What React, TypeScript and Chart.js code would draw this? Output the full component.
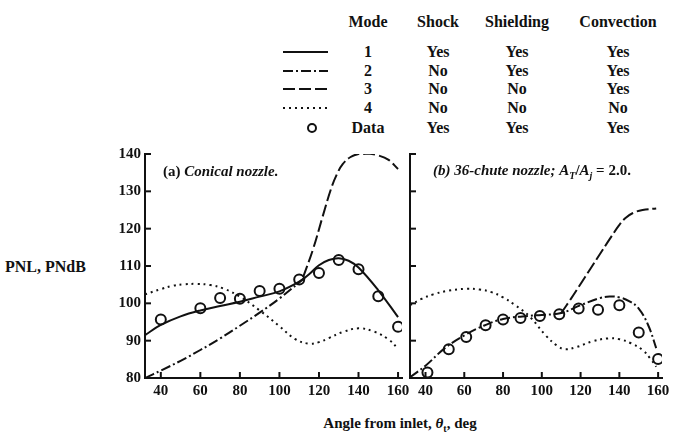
import React, { useEffect, useRef } from "react";
import { Chart, registerables } from "chart.js";

Chart.register(...registerables);

// ---------- Data ----------
const angleTicks = [40, 60, 80, 100, 120, 140, 160];
const dbMin = 80;
const dbMax = 140;
const angleMin = 32;
const angleMax = 162;

// Panel (a) Conical nozzle
const aMode1X = [32, 40, 50, 60, 70, 80, 90, 100, 110, 115, 120, 125, 130, 135, 140, 150, 160];
const aMode1Y = [91.5, 94.2, 96.5, 98.1, 99.3, 100.4, 101.8, 103.2, 105.8, 107.8, 110.2, 111.6, 112.1, 111.4, 109.6, 103.5, 96.3];
const aMode2X = [32, 40, 50, 60, 70, 80, 90, 100, 110, 113];
const aMode2Y = [80, 82.0, 84.6, 87.5, 90.6, 94.0, 97.5, 101.3, 105.6, 107.0];
const aMode3X = [112, 117, 122, 126, 129, 132, 136, 140, 145, 150, 155, 160];
const aMode3Y = [107, 114.5, 123.5, 130.5, 134.5, 137.3, 139.2, 140, 140.1, 139.6, 138.5, 136];
const aMode4X = [32, 40, 46, 52, 58, 65, 72, 80, 90, 100, 108, 115, 120, 125, 132, 140, 148, 155, 160];
const aMode4Y = [102.4, 103.8, 104.7, 105.1, 105.2, 104.9, 103.9, 101.8, 98.1, 93.9, 90.4, 89.2, 89.6, 90.7, 92.3, 93.3, 92.4, 90.4, 87.9];
const aDataX = [40, 60, 70, 80, 90, 100, 110, 120, 130, 140, 150, 160];
const aDataY = [95.7, 98.7, 101.4, 101.2, 103.3, 103.9, 106.4, 108.1, 111.6, 109.1, 101.9, 93.7];

// Panel (b) 36-chute nozzle
const bMode2X = [32, 40, 50, 60, 70, 80, 90, 100, 110, 120, 130, 135, 140, 145, 150, 155, 159];
const bMode2Y = [80.2, 83.3, 88.0, 91.4, 94.0, 95.8, 96.5, 96.9, 97.4, 99.5, 101.4, 101.8, 101.6, 100.6, 98.6, 94, 88];
const bMode3X = [110, 115, 120, 125, 130, 135, 140, 143, 147, 152, 159];
const bMode3Y = [97.4, 101.2, 105.2, 109.2, 113.2, 117.2, 121, 122.8, 124.2, 125, 125.4];
const bMode4X = [32, 38, 44, 52, 61, 68, 74, 80, 86, 94, 102, 108, 112, 118, 126, 134, 140, 146, 152, 156, 159];
const bMode4Y = [99.5, 101.2, 102.4, 103.4, 103.9, 103.7, 103, 101.6, 99.6, 96.3, 91.4, 88.6, 87.7, 88.3, 89.8, 90.6, 90.4, 89.3, 87.5, 85.2, 83];
const bDataX = [41, 52, 61, 71, 80, 89, 99, 109, 119, 129, 140, 150, 160];
const bDataY = [81.5, 87.7, 91, 94.1, 95.7, 96.1, 96.6, 97.1, 98.6, 98.3, 99.5, 92.2, 85.1];

// Legend table
const legendHeaders = ["Mode", "Shock", "Shielding", "Convection"];
const legendModes = ["1", "2", "3", "4", "Data"];
const legendShock = ["Yes", "No", "No", "No", "Yes"];
const legendShielding = ["Yes", "Yes", "No", "No", "Yes"];
const legendConvection = ["Yes", "Yes", "Yes", "No", "Yes"];

// ---------- Styles ----------
const INK = "#111";
const FONT = "'Liberation Serif', 'Times New Roman', serif";
const DASH1: number[] = [];
const DASH2 = [10, 3, 2, 3];
const DASH3 = [12, 4];
const DASH4 = [2, 4];

const pts = (xs: number[], ys: number[]) => xs.map((x, i) => ({ x, y: ys[i] }));

const lineDs = (xs: number[], ys: number[], dash: number[]) => ({
  data: pts(xs, ys),
  borderColor: INK,
  borderWidth: 2,
  borderDash: dash,
  pointRadius: 0,
  tension: 0.4,
  fill: false,
});

const dataDs = (xs: number[], ys: number[]) => ({
  data: pts(xs, ys),
  showLine: false,
  borderColor: INK,
  backgroundColor: "#fff",
  pointRadius: 5,
  pointBorderWidth: 2,
  pointBorderColor: INK,
  pointBackgroundColor: "#fff",
});

const innerTicks = {
  id: "innerTicks",
  afterDraw(chart: any) {
    const { ctx, chartArea, scales } = chart;
    ctx.save();
    ctx.strokeStyle = INK;
    ctx.lineWidth = 2;
    scales.y.ticks.forEach((t: any) => {
      const y = scales.y.getPixelForValue(t.value);
      ctx.beginPath();
      ctx.moveTo(chartArea.left, y);
      ctx.lineTo(chartArea.left + 6, y);
      ctx.stroke();
    });
    scales.x.ticks.forEach((t: any) => {
      const x = scales.x.getPixelForValue(t.value);
      ctx.beginPath();
      ctx.moveTo(x, chartArea.bottom);
      ctx.lineTo(x, chartArea.bottom - 6);
      ctx.stroke();
    });
    ctx.restore();
  },
};

function makeConfig(datasets: any[], yWidth: number, showYLabels: boolean): any {
  return {
    type: "line",
    data: { datasets },
    plugins: [innerTicks],
    options: {
      animation: false,
      responsive: false,
      maintainAspectRatio: false,
      events: [],
      layout: { padding: { top: 14, right: 15, left: 0, bottom: 0 } },
      plugins: { legend: { display: false }, tooltip: { enabled: false } },
      scales: {
        x: {
          type: "linear",
          min: angleMin,
          max: angleMax,
          afterBuildTicks: (s: any) => {
            s.ticks = angleTicks.map((v) => ({ value: v }));
          },
          afterFit: (s: any) => {
            s.height = 24;
          },
          grid: { display: true, drawOnChartArea: false, drawTicks: false },
          border: { display: true, color: INK, width: 2 },
          ticks: { color: INK, font: { family: FONT, size: 15, weight: "bold" }, padding: 4, maxRotation: 0, autoSkip: false },
        },
        y: {
          type: "linear",
          min: dbMin,
          max: dbMax,
          afterFit: (s: any) => {
            s.width = yWidth;
          },
          grid: { display: true, drawOnChartArea: false, drawTicks: false },
          border: { display: true, color: INK, width: 2 },
          ticks: { display: showYLabels, stepSize: 10, color: INK, font: { family: FONT, size: 15, weight: "bold" }, padding: 4 },
        },
      },
    },
  };
}

function Panel(props: { left: number; top: number; width: number; height: number; datasets: any[]; yWidth: number; showY: boolean }) {
  const ref = useRef<HTMLCanvasElement>(null);
  useEffect(() => {
    if (!ref.current) return;
    const chart = new Chart(ref.current, makeConfig(props.datasets, props.yWidth, props.showY));
    return () => chart.destroy();
  }, []);
  return (
    <canvas
      ref={ref}
      width={props.width}
      height={props.height}
      style={{ position: "absolute", left: props.left, top: props.top, width: props.width, height: props.height }}
    />
  );
}

function Txt(props: { x: number; y: number; children: any; size?: number; align?: "center" | "left" | "right"; style?: any }) {
  const tx = props.align === "left" ? "0" : props.align === "right" ? "-100%" : "-50%";
  return (
    <div
      style={{
        position: "absolute",
        left: props.x,
        top: props.y,
        transform: `translate(${tx}, -50%)`,
        whiteSpace: "nowrap",
        fontFamily: FONT,
        fontSize: props.size || 16,
        color: INK,
        lineHeight: 1,
        ...(props.style || {}),
      }}
    >
      {props.children}
    </div>
  );
}

function LineSample(props: { x: number; y: number; dash: number[] | null }) {
  return (
    <svg style={{ position: "absolute", left: props.x, top: props.y - 6 }} width={48} height={12}>
      {props.dash === null ? (
        <circle cx={30} cy={6} r={4} fill="#fff" stroke={INK} strokeWidth={2} />
      ) : (
        <line x1={1} y1={6} x2={46} y2={6} stroke={INK} strokeWidth={2} strokeDasharray={props.dash.length ? props.dash.join(" ") : undefined} />
      )}
    </svg>
  );
}

export default function App() {
  const aSets = [
    lineDs(aMode4X, aMode4Y, DASH4),
    lineDs(aMode2X, aMode2Y, DASH2),
    lineDs(aMode3X, aMode3Y, DASH3),
    lineDs(aMode1X, aMode1Y, DASH1),
    dataDs(aDataX, aDataY),
  ];
  const bSets = [
    lineDs(bMode4X, bMode4Y, DASH4),
    lineDs(bMode3X, bMode3Y, DASH3),
    lineDs(bMode2X, bMode2Y, DASH2),
    dataDs(bDataX, bDataY),
  ];
  const rowsY = [52, 71, 89, 108, 128];
  const colX = [368, 438, 517, 618];
  const samples = [DASH1, DASH2, DASH3, DASH4, null];
  const bold = { fontWeight: "bold" };
  return (
    <div style={{ position: "fixed", left: 0, top: 0, width: 689, height: 440, background: "#fff", overflow: "hidden" }}>
      {legendHeaders.map((h, i) => (
        <Txt key={h} x={colX[i]} y={22} style={bold}>{h}</Txt>
      ))}
      {rowsY.map((y, r) => (
        <React.Fragment key={r}>
          <LineSample x={282} y={y} dash={samples[r]} />
          <Txt x={colX[0]} y={y} style={bold}>{legendModes[r]}</Txt>
          <Txt x={colX[1]} y={y} style={bold}>{legendShock[r]}</Txt>
          <Txt x={colX[2]} y={y} style={bold}>{legendShielding[r]}</Txt>
          <Txt x={colX[3]} y={y} style={bold}>{legendConvection[r]}</Txt>
        </React.Fragment>
      ))}
      <Panel left={95} top={140} width={322} height={262} datasets={aSets} yWidth={50} showY={true} />
      <Panel left={400} top={140} width={277} height={262} datasets={bSets} yWidth={10} showY={false} />
      <Txt x={163} y={171} align="left" size={15} style={bold}>
        (a) <i>Conical nozzle.</i>
      </Txt>
      <Txt x={433} y={172} align="left" size={15} style={bold}>
        <i>(b)</i> <i>36-chute nozzle;</i>{" "}
        <i>A</i>
        <sub style={{ fontSize: 10, fontStyle: "italic" }}>T</sub>
        /<i>A</i>
        <sub style={{ fontSize: 10, fontStyle: "italic" }}>j</sub> = 2.0.
      </Txt>
      <Txt x={5} y={267} align="left" size={16} style={bold}>PNL, PNdB</Txt>
      <Txt x={400} y={425} size={15} style={bold}>
        Angle from inlet, <i>θ</i>
        <sub style={{ fontSize: 10 }}>t</sub>, deg
      </Txt>
    </div>
  );
}
